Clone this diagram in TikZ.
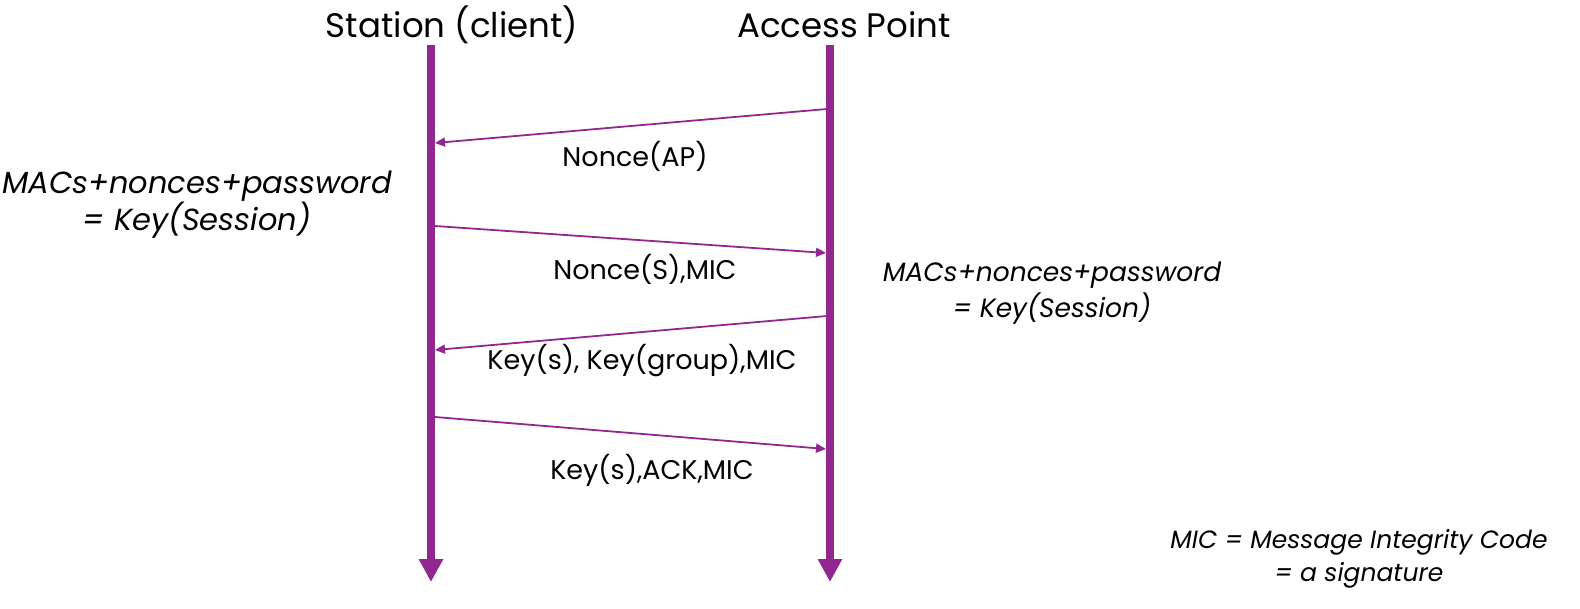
\documentclass[tikz,border=0pt]{standalone}
\usepackage{fontspec}
\setmainfont{Poppins}
\usetikzlibrary{arrows.meta,positioning}
\definecolor{wpa}{HTML}{92278F}

\begin{document}
\begin{tikzpicture}[x=1pt,y=-1pt,
  life/.style={wpa,line width=8pt,-{Triangle[length=23pt,width=23pt]}},
  msg/.style={wpa,line width=1.8pt,-{Triangle[length=10pt,width=9pt]}},
  head/.style={inner sep=0pt,font=\fontsize{34}{40}\selectfont},
  lbl/.style={inner sep=0pt,font=\fontsize{27}{32}\selectfont},
  note/.style={inner sep=0pt,align=center,font=\itshape},
]
  \useasboundingbox (0,0) rectangle (1580,609);

  % lifelines
  \node[head] (sta) at (452,25) {Station (client)};
  \node[head] (ap) at (844,25) {Access Point};
  \coordinate (staTop) at (431,45);
  \coordinate (staBot) at (431,582);
  \coordinate (apTop) at (830,45);
  \coordinate (apBot) at (830,582);
  \draw[life] (staTop) -- (staBot);
  \draw[life] (apTop) -- (apBot);

  % handshake messages
  \coordinate (ap1) at (827,109);  \coordinate (sta1) at (435,143);
  \coordinate (sta2) at (435,226); \coordinate (ap2) at (826,253);
  \coordinate (ap3) at (827,316);  \coordinate (sta3) at (435,350);
  \coordinate (sta4) at (435,417); \coordinate (ap4) at (826,449);

  \draw[msg] (ap1) -- (sta1);
  \draw[msg] (sta2) -- (ap2);
  \draw[msg] (ap3) -- (sta3);
  \draw[msg] (sta4) -- (ap4);

  \node[lbl] (m1) at (635,156) {Nonce(AP)};
  \node[lbl] (m2) at (645,269) {Nonce(S),MIC};
  \node[lbl] (m3) at (642,361) {Key(s), Key(group),MIC};
  \node[lbl] (m4) at (652,470) {Key(s),ACK,MIC};

  % key derivation
  \node[note,font=\fontsize{30.5}{37}\selectfont\itshape] (kSta) at (197,205)
    {MACs+nonces+password\\= Key(Session)};
  \node[note,font=\fontsize{26.5}{36}\selectfont\itshape] (kAp) at (1052,293)
    {MACs+nonces+password\\= Key(Session)};
  \node[note,font=\fontsize{25}{33}\selectfont\itshape] (mic) at (1359,559)
    {MIC = Message Integrity Code\\= a signature};
\end{tikzpicture}
\end{document}
